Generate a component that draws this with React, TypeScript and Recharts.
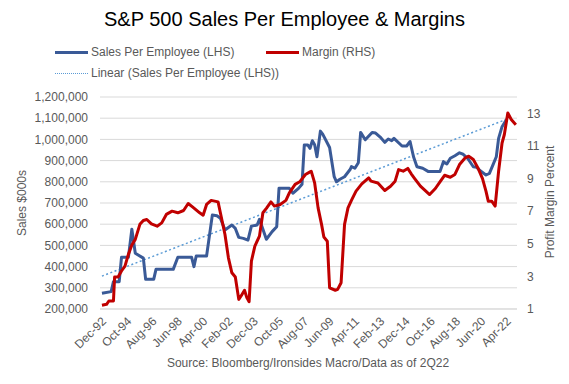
import React from 'react';
import { LineChart, Line, XAxis, YAxis, CartesianGrid } from 'recharts';

// months since Dec-92
const salesMonths = [0, 8, 10, 15, 17, 23, 26, 29, 36, 38, 45, 47, 62, 66, 78, 80, 82, 91, 96, 100, 103, 107, 113, 116, 119, 123, 127, 130, 135, 137, 143, 148, 152, 154, 163, 166, 171, 174, 176, 179, 181, 183, 185, 187, 190, 192, 198, 202, 204, 207, 211, 216, 217, 220, 223, 225, 229, 235, 238, 242, 246, 249, 252, 254, 261, 265, 268, 271, 274, 279, 284, 294, 297, 300, 303, 307, 311, 314, 318, 323, 326, 329, 334, 337, 340, 343, 345, 348, 352];
const salesValues = [274000, 282000, 329000, 329000, 444000, 444000, 576000, 463000, 440000, 340000, 340000, 387000, 387000, 444000, 444000, 400000, 450000, 450000, 643000, 640000, 628000, 573000, 596000, 580000, 538000, 533000, 525000, 591000, 596000, 623000, 529000, 565000, 588000, 769000, 769000, 746000, 769000, 788000, 974000, 974000, 958000, 994000, 975000, 918000, 1039000, 1025000, 962000, 824000, 800000, 812000, 824000, 859000, 872000, 864000, 890000, 1033000, 998000, 1033000, 1030000, 1011000, 986000, 1002000, 994000, 1005000, 969000, 969000, 990000, 918000, 871000, 864000, 848000, 848000, 895000, 884000, 911000, 923000, 937000, 930000, 911000, 871000, 868000, 852000, 832000, 840000, 879000, 918000, 1005000, 1060000, 1095000];

const marginMonths = [0, 4, 6, 10, 11, 14, 17, 20, 23, 26, 29, 33, 36, 39, 43, 48, 52, 56, 61, 66, 71, 75, 79, 85, 88, 91, 95, 101, 103, 107, 110, 113, 116, 119, 121, 124, 126, 128, 130, 133, 137, 140, 143, 147, 150, 155, 160, 163, 168, 172, 177, 181, 182, 185, 188, 191, 193, 196, 198, 203, 205, 208, 211, 214, 217, 221, 226, 232, 234, 240, 246, 251, 255, 258, 262, 266, 269, 272, 277, 281, 285, 290, 294, 298, 303, 307, 311, 316, 319, 323, 327, 331, 334, 336, 339, 342, 345, 348, 350, 353, 356, 360];
const marginValues = [1.23, 1.29, 1.49, 1.49, 2.96, 2.96, 3.33, 3.63, 4.35, 4.92, 5.27, 6.19, 6.43, 6.49, 6.22, 6.08, 6.28, 6.8, 7.0, 6.9, 7.04, 7.47, 7.25, 6.9, 6.75, 7.41, 7.66, 7.57, 6.9, 5.57, 4.14, 3.22, 2.96, 1.59, 1.8, 2.15, 1.7, 1.45, 3.94, 4.86, 5.47, 6.9, 7.17, 7.57, 7.31, 7.41, 7.66, 8.12, 8.64, 8.8, 9.25, 9.41, 9.45, 8.73, 7.2, 6.19, 5.41, 5.16, 2.3, 2.15, 2.2, 2.61, 6.19, 7.2, 7.66, 8.23, 8.67, 9.04, 8.84, 8.73, 8.27, 8.53, 8.84, 9.55, 9.45, 9.62, 9.29, 9.0, 8.53, 8.27, 8.02, 8.39, 8.8, 9.2, 9.08, 9.25, 9.86, 10.27, 10.37, 10.17, 9.65, 9.0, 8.23, 7.61, 7.61, 7.31, 9.45, 11.18, 11.7, 13.02, 12.62, 12.3];

const trendMonths = [0, 352];
const trendValues = [355000, 1095000];

const xTickMonths = [0, 22, 44, 66, 88, 110, 132, 154, 176, 198, 220, 242, 264, 286, 308, 330, 352];
const xTickLabels = ['Dec-92', 'Oct-94', 'Aug-96', 'Jun-98', 'Apr-00', 'Feb-02', 'Dec-03', 'Oct-05', 'Aug-07', 'Jun-09', 'Apr-11', 'Feb-13', 'Dec-14', 'Oct-16', 'Aug-18', 'Jun-20', 'Apr-22'];

const leftTicks = [200000, 300000, 400000, 500000, 600000, 700000, 800000, 900000, 1000000, 1100000, 1200000];
const rightTicks = [1, 3, 5, 7, 9, 11, 13];

const salesData = salesMonths.map((m, i) => ({ m, v: salesValues[i] }));
const marginData = marginMonths.map((m, i) => ({ m, p: marginValues[i] }));
const trendData = trendMonths.map((m, i) => ({ m, t: trendValues[i] }));

const FONT = '"Liberation Sans", Arial, sans-serif';
const GREY = '#595959';
const BLUE = '#3A5A97';
const RED = '#C00000';
const TREND = '#5B9BD5';

const XTick = (props: any) => {
  const { x, y, payload } = props;
  const idx = xTickMonths.indexOf(payload.value);
  const label = idx >= 0 ? xTickLabels[idx] : '';
  const ax = x + 5;
  const ay = y + 13;
  return (
    <text x={ax} y={ay} transform={`rotate(-45 ${ax} ${ay})`} textAnchor="end" fontSize={12} fill={GREY} fontFamily={FONT}>
      {label}
    </text>
  );
};

const fmt = (v: number) => v.toLocaleString('en-US');

export default function App() {
  return (
    <div style={{ position: 'absolute', left: 0, top: 0, width: 569, height: 384, background: '#fff', fontFamily: FONT, overflow: 'hidden' }}>
      <div style={{ position: 'absolute', left: 0, width: 569, top: 6, textAlign: 'center', fontSize: 20, color: '#000', lineHeight: '26px' }}>
        S&amp;P 500 Sales Per Employee &amp; Margins
      </div>
      {/* legend */}
      <div style={{ position: 'absolute', left: 55, top: 51, width: 33, height: 3, background: BLUE }} />
      <div style={{ position: 'absolute', left: 91, top: 45, fontSize: 12, color: GREY, lineHeight: '15px' }}>Sales Per Employee (LHS)</div>
      <div style={{ position: 'absolute', left: 266, top: 51, width: 33, height: 3, background: RED }} />
      <div style={{ position: 'absolute', left: 302, top: 45, fontSize: 12, color: GREY, lineHeight: '15px' }}>Margin (RHS)</div>
      <div style={{ position: 'absolute', left: 55, top: 73, width: 33, height: 0, borderTop: `1.5px dotted ${TREND}` }} />
      <div style={{ position: 'absolute', left: 91, top: 66, fontSize: 12, color: GREY, lineHeight: '15px' }}>Linear (Sales Per Employee (LHS))</div>

      <div style={{ position: 'absolute', left: 0, top: 0 }}>
        <LineChart width={569} height={384} margin={{ top: 97, right: 12, left: 10, bottom: 30 }}>
          <CartesianGrid yAxisId="left" vertical={false} stroke="#d9d9d9" />
          <XAxis
            xAxisId={0}
            dataKey="m"
            type="number"
            domain={[-1.7, 361]}
            ticks={xTickMonths}
            tick={<XTick />}
            tickLine={false}
            axisLine={{ stroke: '#d9d9d9' }}
            tickSize={0}
            tickMargin={0}
            height={45}
            interval={0}
            allowDataOverflow
          />
          <YAxis
            yAxisId="left"
            orientation="left"
            domain={[200000, 1200000]}
            ticks={leftTicks}
            tickFormatter={fmt}
            tick={{ fontSize: 12, fill: GREY, fontFamily: FONT }}
            tickLine={false}
            axisLine={false}
            tickSize={0}
            tickMargin={12}
            width={90}
            interval={0}
          />
          <YAxis
            yAxisId="right"
            orientation="right"
            domain={[1, 14]}
            ticks={rightTicks}
            tick={{ fontSize: 12, fill: GREY, fontFamily: FONT, textAnchor: 'start' }}
            tickLine={false}
            axisLine={false}
            tickSize={0}
            tickMargin={10}
            width={40}
            interval={0}
          />
          <Line yAxisId="left" data={trendData} dataKey="t" stroke={TREND} strokeWidth={1.5} strokeDasharray="2 2.5" dot={false} isAnimationActive={false} type="linear" />
          <Line yAxisId="left" data={salesData} dataKey="v" stroke={BLUE} strokeWidth={3} dot={false} isAnimationActive={false} type="linear" strokeLinejoin="round" />
          <Line yAxisId="right" data={marginData} dataKey="p" stroke={RED} strokeWidth={3} dot={false} isAnimationActive={false} type="linear" strokeLinejoin="round" />
        </LineChart>
      </div>

      <div style={{ position: 'absolute', left: 14, top: 203, transform: 'translate(-50%, -50%) rotate(-90deg)', transformOrigin: 'center', fontSize: 12, color: GREY, whiteSpace: 'nowrap', lineHeight: '15px', marginLeft: 8 }}>
        Sales $000s
      </div>
      <div style={{ position: 'absolute', left: 550, top: 202, transform: 'translate(-50%, -50%) rotate(-90deg)', fontSize: 12, color: GREY, whiteSpace: 'nowrap', lineHeight: '15px' }}>
        Profit Margin Percent
      </div>
      <div style={{ position: 'absolute', left: 108, width: 400, top: 356, textAlign: 'center', fontSize: 12, color: GREY, lineHeight: '15px' }}>
        Source: Bloomberg/Ironsides Macro/Data as of 2Q22
      </div>
    </div>
  );
}
